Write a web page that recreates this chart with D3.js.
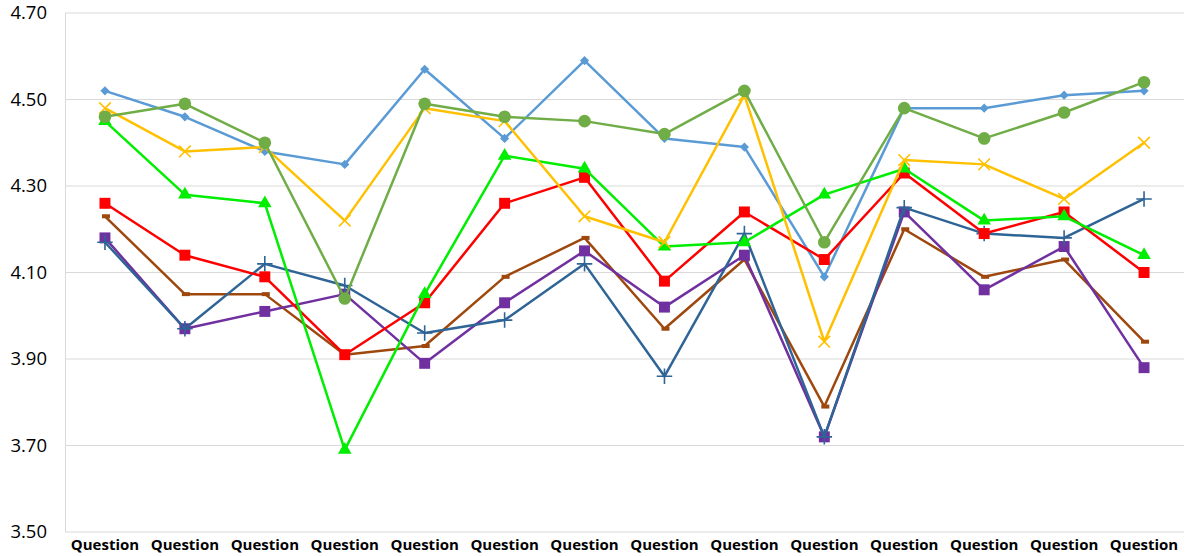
<!DOCTYPE html>
<html>
<head>
<meta charset="utf-8">
<script src="https://cdn.jsdelivr.net/npm/d3@7"></script>
<style>
  body { margin: 0; background: #fff; }
  svg text { font-family: "Open Sans", "Noto Sans", sans-serif; fill: #000; }
</style>
</head>
<body>
<div id="chart"></div>
<script>
var categories = ['Question','Question','Question','Question','Question','Question','Question',
                  'Question','Question','Question','Question','Question','Question','Question'];
var yTicks = [3.5, 3.7, 3.9, 4.1, 4.3, 4.5, 4.7];

var blueDiamond = [4.52, 4.46, 4.38, 4.35, 4.57, 4.41, 4.59, 4.41, 4.39, 4.09, 4.48, 4.48, 4.51, 4.52];
var oliveCircle = [4.46, 4.49, 4.40, 4.04, 4.49, 4.46, 4.45, 4.42, 4.52, 4.17, 4.48, 4.41, 4.47, 4.54];
var yellowX     = [4.48, 4.38, 4.39, 4.22, 4.48, 4.45, 4.23, 4.17, 4.51, 3.94, 4.36, 4.35, 4.27, 4.40];
var greenTri    = [4.45, 4.28, 4.26, 3.69, 4.05, 4.37, 4.34, 4.16, 4.17, 4.28, 4.34, 4.22, 4.23, 4.14];
var redSquare   = [4.26, 4.14, 4.09, 3.91, 4.03, 4.26, 4.32, 4.08, 4.24, 4.13, 4.33, 4.19, 4.24, 4.10];
var brownDash   = [4.23, 4.05, 4.05, 3.91, 3.93, 4.09, 4.18, 3.97, 4.13, 3.79, 4.20, 4.09, 4.13, 3.94];
var purpleSq    = [4.18, 3.97, 4.01, 4.05, 3.89, 4.03, 4.15, 4.02, 4.14, 3.72, 4.24, 4.06, 4.16, 3.88];
var navyPlus    = [4.17, 3.97, 4.12, 4.07, 3.96, 3.99, 4.12, 3.86, 4.19, 3.72, 4.25, 4.19, 4.18, 4.27];

var series = [
  { values: blueDiamond, color: '#5B9BD5', marker: 'diamond' },
  { values: brownDash,   color: '#9E480E', marker: 'dash' },
  { values: purpleSq,    color: '#7030A0', marker: 'square' },
  { values: navyPlus,    color: '#2E6496', marker: 'plus' },
  { values: redSquare,   color: '#FF0000', marker: 'square' },
  { values: greenTri,    color: '#00EE00', marker: 'triangle' },
  { values: yellowX,     color: '#FFC000', marker: 'cross' },
  { values: oliveCircle, color: '#70AD47', marker: 'circle' }
];

var W = 1197, H = 556;
var margin = { top: 13, right: 13, bottom: 24, left: 65 };

var svg = d3.select('#chart').append('svg')
    .attr('width', W)
    .attr('height', H);

var x = d3.scaleBand()
    .domain(d3.range(categories.length))
    .range([margin.left, W - margin.right]);

var y = d3.scaleLinear()
    .domain([3.5, 4.7])
    .range([H - margin.bottom, margin.top]);

// gridlines
svg.append('g')
    .selectAll('line')
    .data(yTicks)
    .enter()
    .append('line')
    .attr('x1', margin.left)
    .attr('x2', W - margin.right)
    .attr('y1', d => y(d))
    .attr('y2', d => y(d))
    .attr('stroke', '#d9d9d9')
    .attr('stroke-width', 1);

// vertical axis line
svg.append('line')
    .attr('x1', margin.left + 0.5)
    .attr('x2', margin.left + 0.5)
    .attr('y1', y(4.7))
    .attr('y2', y(3.5))
    .attr('stroke', '#d9d9d9');

// y tick labels
var yAxis = svg.append('g')
    .attr('transform', `translate(${margin.left},0)`)
    .call(d3.axisLeft(y).tickValues(yTicks).tickFormat(d3.format('.2f')).tickSize(0).tickPadding(18));
yAxis.select('.domain').remove();
yAxis.selectAll('text')
    .style('font-size', '18.5px')
    .attr('fill', '#000');

// x labels
var xAxis = svg.append('g')
    .attr('transform', `translate(0,${H - margin.bottom})`)
    .call(d3.axisBottom(x).tickFormat(i => categories[i]).tickSize(0).tickPadding(7));
xAxis.select('.domain').remove();
xAxis.selectAll('text')
    .style('font-size', '15px')
    .style('font-weight', 'bold')
    .attr('fill', '#000');

var cx = i => x(i) + x.bandwidth() / 2;

var line = d3.line()
    .x((d, i) => cx(i))
    .y(d => y(d));

var symbols = {
  diamond: d3.symbol().type(d3.symbolSquare).size(42),
  square: d3.symbol().type(d3.symbolSquare).size(120),
  triangle: d3.symbol().type(d3.symbolTriangle).size(80),
  circle: d3.symbol().type(d3.symbolCircle).size(125),
  cross: d3.symbol().type(d3.symbolX).size(90),
  plus: d3.symbol().type(d3.symbolCross2 || d3.symbolPlus).size(80)
};

series.forEach(function (s) {
  var g = svg.append('g');

  g.append('path')
      .datum(s.values)
      .attr('fill', 'none')
      .attr('stroke', s.color)
      .attr('stroke-width', 2.5)
      .attr('stroke-linejoin', 'round')
      .attr('d', line);

  var m = g.selectAll('.mk')
      .data(s.values)
      .enter();

  if (s.marker === 'dash') {
    m.append('rect')
        .attr('x', (d, i) => cx(i) - 3)
        .attr('y', d => y(d) - 2)
        .attr('width', 8)
        .attr('height', 4)
        .attr('fill', s.color);
  } else if (s.marker === 'cross' || s.marker === 'plus') {
    m.append('path')
        .attr('transform', (d, i) => `translate(${cx(i)},${y(d)})`)
        .attr('d', symbols[s.marker])
        .attr('fill', 'none')
        .attr('stroke', s.color)
        .attr('stroke-width', 1.6);
  } else if (s.marker === 'diamond') {
    m.append('path')
        .attr('transform', (d, i) => `translate(${cx(i)},${y(d)}) rotate(45)`)
        .attr('d', symbols.diamond)
        .attr('fill', s.color);
  } else {
    m.append('path')
        .attr('transform', (d, i) => `translate(${cx(i)},${y(d)})`)
        .attr('d', symbols[s.marker])
        .attr('fill', s.color);
  }
});
</script>
</body>
</html>
